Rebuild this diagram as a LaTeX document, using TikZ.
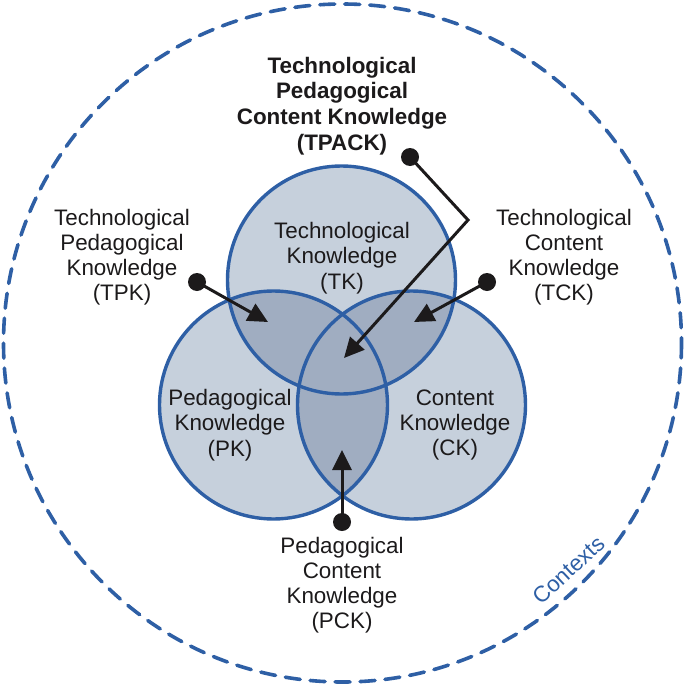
\documentclass[tikz,border=0pt]{standalone}
\usepackage{fontspec}
\setmainfont{Liberation Sans}
\usetikzlibrary{arrows.meta}
\definecolor{ringblue}{HTML}{2E5FA5}
\definecolor{vennfill}{HTML}{C6D0DC}
\definecolor{pairfill}{HTML}{A0ADC1}
\definecolor{corefill}{HTML}{8896AE}
\definecolor{inkgray}{HTML}{1C1A1B}

\begin{document}
\begin{tikzpicture}[
		x=0.5pt, y=-0.5pt,
		>={Triangle[length=10pt,width=9.5pt]},
		label/.style={
			align=center,
			text=inkgray,
			font=\fontsize{11.2}{12.6}\selectfont,
		},
		dot/.style={circle, fill=inkgray, inner sep=0pt, minimum size=9pt},
		pointer/.style={draw=inkgray, line width=1.5pt, ->},
		outline/.style={draw=ringblue, line width=1.7pt},
	]
	\useasboundingbox (0,0) rectangle (685,685);
	% contexts ring
	\draw[ringblue, line width=1.8pt, dash pattern=on 7.5pt off 5pt, line cap=round]
		(342.5,343) circle[radius=339];
	\node[label, text=ringblue, rotate=43] (ctx) at (569,570) {Contexts};

	% the three circles
	\coordinate (tk) at (341.5,280);
	\coordinate (pk) at (273.5,405);
	\coordinate (ck) at (411.5,405);
	\foreach \c in {tk,pk,ck}{
		\fill[vennfill] (\c) circle[radius=114];
	}
	\begin{scope}
		\clip (tk) circle[radius=114];
		\fill[pairfill] (pk) circle[radius=114];
		\fill[pairfill] (ck) circle[radius=114];
		\clip (pk) circle[radius=114];
		\fill[corefill] (ck) circle[radius=114];
	\end{scope}
	\begin{scope}
		\clip (pk) circle[radius=114];
		\fill[pairfill] (ck) circle[radius=114];
	\end{scope}
	\foreach \c in {tk,pk,ck}{
		\draw[outline] (\c) circle[radius=114];
	}

	% circle labels
	\node[label] (tk-lbl) at (342,258) {Technological\\Knowledge\\(TK)};
	\node[label] (pk-lbl) at (230,425) {Pedagogical\\Knowledge\\(PK)};
	\node[label] (ck-lbl) at (455,425) {Content\\Knowledge\\(CK)};

	% outer labels
	\node[label, font=\fontsize{11.2}{12.9}\selectfont\bfseries] (tpack-lbl) at (342,106)
		{Technological\\Pedagogical\\Content Knowledge\\(TPACK)};
	\node[label] (tpk-lbl) at (122,257)
		{Technological\\Pedagogical\\Knowledge\\(TPK)};
	\node[label] (tck-lbl) at (564,257)
		{Technological\\Content\\Knowledge\\(TCK)};
	\node[label] (pck-lbl) at (342,585)
		{Pedagogical\\Content\\Knowledge\\(PCK)};

	% pointers
	\node[dot] (tpack-dot) at (410,157) {};
	\coordinate (tpack-bend) at (468,220);
	\coordinate (tpack-tip) at (344,358);
	\draw[pointer] (tpack-dot.center) -- (tpack-bend) -- (tpack-tip);

	\node[dot] (tpk-dot) at (197,282) {};
	\coordinate (tpk-tip) at (268,322);
	\draw[pointer] (tpk-dot.center) -- (tpk-tip);

	\node[dot] (tck-dot) at (487,282) {};
	\coordinate (tck-tip) at (414,322);
	\draw[pointer] (tck-dot.center) -- (tck-tip);

	\node[dot] (pck-dot) at (342,522) {};
	\coordinate (pck-tip) at (342,450);
	\draw[pointer] (pck-dot.center) -- (pck-tip);
\end{tikzpicture}
\end{document}
